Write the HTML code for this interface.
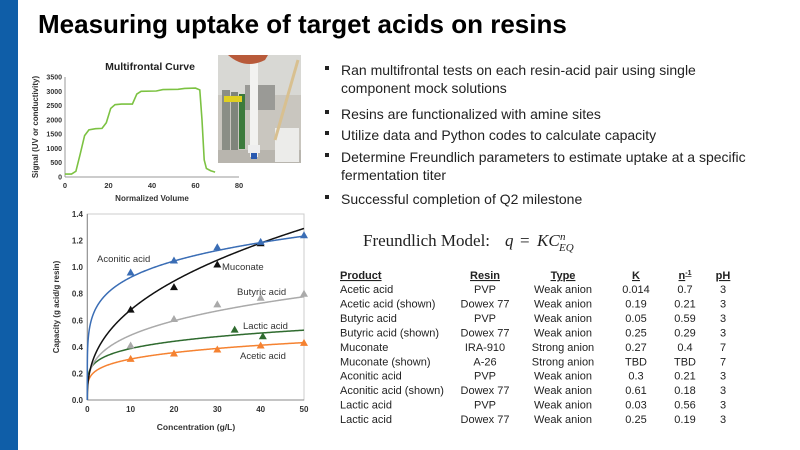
<!DOCTYPE html>
<html><head><meta charset="utf-8"><style>
body{margin:0;width:800px;height:450px;overflow:hidden;background:#fff;font-family:"Liberation Sans",Arial,sans-serif;position:relative}
.t{position:absolute;white-space:nowrap}
</style></head><body>
<div style="position:absolute;left:0;top:0;width:18px;height:450px;background:#0f5ea8"></div>
<div class="t" style="left:38px;top:9px;font-size:26px;font-weight:bold;color:#000">Measuring uptake of target acids on resins</div>

<svg width="800" height="450" style="position:absolute;left:0;top:0" font-family="Liberation Sans, Arial, sans-serif">
<!-- top chart -->
<text x="150" y="70" font-size="10.5" font-weight="bold" text-anchor="middle" fill="#222">Multifrontal Curve</text>
<line x1="65" y1="77" x2="65" y2="177" stroke="#999"/>
<line x1="65" y1="177" x2="239" y2="177" stroke="#999"/>
<g font-size="7" font-weight="bold" fill="#333" text-anchor="end" id="ty"></g>
<g font-size="7.5" font-weight="bold" fill="#333" text-anchor="middle" id="tx"></g>
<text x="152" y="201" font-size="8" font-weight="bold" text-anchor="middle" fill="#333">Normalized Volume</text>
<text transform="translate(38,127) rotate(-90)" font-size="8" font-weight="bold" text-anchor="middle" fill="#333">Signal (UV or conductivity)</text>
<path id="mf" fill="none" stroke="#7cc242" stroke-width="1.6"/>
<!-- photo -->
<rect x="218" y="55" width="83" height="108" fill="#c9c6bf"/>
<rect x="218" y="55" width="83" height="40" fill="#d8d8d4"/>
<rect x="222" y="90" width="8" height="60" fill="#8a8e86"/>
<rect x="231" y="92" width="7" height="58" fill="#7f857b"/>
<rect x="239" y="94" width="6" height="55" fill="#3c7a3c"/>
<rect x="224" y="96" width="18" height="6" fill="#e0d020"/>
<rect x="245" y="85" width="30" height="25" fill="#9a9a96"/>
<rect x="218" y="150" width="83" height="13" fill="#b8b5ae"/>
<rect x="250" y="57" width="8" height="100" fill="#f2f2f0"/>
<rect x="248" y="145" width="12" height="8" fill="#eee"/>
<rect x="251" y="153" width="6" height="6" fill="#2a5ab0"/>
<path d="M228 55 Q245 70 265 60 L268 55Z" fill="#b85a3a"/>
<rect x="275" y="128" width="24" height="34" fill="#ececea"/>
<line x1="298" y1="60" x2="275" y2="140" stroke="#d8c090" stroke-width="3"/>
<!-- bottom chart -->
<rect x="87.3" y="214" width="216.7" height="186" fill="none" stroke="#ccc"/>
<line x1="87.3" y1="214" x2="87.3" y2="400" stroke="#888"/>
<line x1="87.3" y1="400" x2="304" y2="400" stroke="#888"/>
<g font-size="8" font-weight="bold" fill="#333" text-anchor="end" id="by"></g>
<g font-size="8" font-weight="bold" fill="#333" text-anchor="middle" id="bx"></g>
<text x="196" y="430" font-size="8.5" font-weight="bold" text-anchor="middle" fill="#333">Concentration (g/L)</text>
<text transform="translate(59,307) rotate(-90)" font-size="8" font-weight="bold" text-anchor="middle" fill="#333">Capacity (g acid/g resin)</text>
<g id="curves"></g>
<g font-size="9.5" fill="#333">
<text x="97" y="262">Aconitic acid</text>
<text x="222" y="270">Muconate</text>
<text x="237" y="295">Butyric acid</text>
<text x="243" y="329">Lactic acid</text>
<text x="240" y="359">Acetic acid</text>
</g>
<g font-family="Liberation Serif, serif" fill="#222">
<text x="363" y="246" font-size="17">Freundlich Model:</text>
<text x="505" y="246" font-size="17" font-style="italic">q</text>
<text x="520" y="246" font-size="17">=</text>
<text x="537" y="246" font-size="17" font-style="italic">KC</text>
<text x="560" y="240" font-size="11" font-style="italic">n</text>
<text x="559" y="251" font-size="11" font-style="italic">EQ</text>
</g>
<g id="tbl" font-size="11" fill="#222"></g>
<!-- bullets -->
<g font-size="14" fill="#222">
<rect x="325" y="66" width="4" height="4"/><text x="341" y="75">Ran multifrontal tests on each resin-acid pair using single</text>
<text x="341" y="93">component mock solutions</text>
<rect x="325" y="110" width="4" height="4"/><text x="341" y="119">Resins are functionalized with amine sites</text>
<rect x="325" y="131" width="4" height="4"/><text x="341" y="140">Utilize data and Python codes to calculate capacity</text>
<rect x="325" y="153" width="4" height="4"/><text x="341" y="162">Determine Freundlich parameters to estimate uptake at a specific</text>
<text x="341" y="180">fermentation titer</text>
<rect x="325" y="195" width="4" height="4"/><text x="341" y="204">Successful completion of Q2 milestone</text>
</g>
</svg>
<script>
var NS="http://www.w3.org/2000/svg";
function el(p,t,a,txt){var e=document.createElementNS(NS,t);for(var k in a)e.setAttribute(k,a[k]);if(txt!=null)e.textContent=txt;p.appendChild(e);return e;}
var tx=function(v){return 65+v*174/80},ty=function(v){return 177-v*100/3500};
var ty_g=document.getElementById('ty'),tx_g=document.getElementById('tx');
for(var v=0;v<=3500;v+=500)el(ty_g,'text',{x:62,y:ty(v)+2.5},v);
for(var v=0;v<=80;v+=20)el(tx_g,'text',{x:tx(v),y:188},v);
var mp=[[0,100],[3,100],[5,200],[7,800],[9,1450],[11,1650],[14,1690],[17,1700],[19,1900],[21,2400],[23,2530],[26,2550],[31,2550],[33,2900],[35,3000],[42,3010],[45,3060],[52,3070],[55,3100],[60,3110],[62,3050],[63,2000],[64,600],[65,300],[67,220],[69,170]];
document.getElementById('mf').setAttribute('d','M'+mp.map(function(p){return tx(p[0]).toFixed(1)+' '+ty(p[1]).toFixed(1)}).join(' L'));
var bx=function(v){return 87.3+v*216.7/50},by=function(v){return 400-v*186/1.4};
var byg=document.getElementById('by'),bxg=document.getElementById('bx');
for(var i=0;i<=7;i++){var v=i*0.2;el(byg,'text',{x:83,y:by(v)+3},v.toFixed(1));}
for(var v=0;v<=50;v+=10)el(bxg,'text',{x:bx(v),y:412},v);
var S=[
 {c:'#f58231',K:0.19,n:0.21,p:[[10,0.31],[20,0.35],[30,0.38],[40,0.41],[50,0.43]]},
 {c:'#2f6b2f',K:0.25,n:0.19,p:[[34,0.53],[40.5,0.48]]},
 {c:'#aaaaaa',K:0.25,n:0.29,p:[[10,0.41],[20,0.61],[30,0.72],[40,0.77],[50,0.8]]},
 {c:'#111111',K:0.27,n:0.4,p:[[10,0.68],[20,0.85],[30,1.02],[40,1.18]]},
 {c:'#3a6db5',K:0.61,n:0.18,p:[[10,0.96],[20,1.05],[30,1.15],[40,1.19],[50,1.24]]}];
var cg=document.getElementById('curves');
S.forEach(function(s){
 var d='M'+bx(0)+' '+by(0);
 for(var i=1;i<=400;i++){var x=Math.pow(i/400,2.5)*50;var y=s.K*Math.pow(x,s.n);d+=' L'+bx(x).toFixed(2)+' '+by(y).toFixed(2);}
 el(cg,'path',{d:d,fill:'none',stroke:s.c,'stroke-width':1.5});
 s.p.forEach(function(p){var X=bx(p[0]),Y=by(p[1]);el(cg,'path',{d:'M'+X+' '+(Y-4)+' L'+(X+4)+' '+(Y+3)+' L'+(X-4)+' '+(Y+3)+'Z',fill:s.c});});
});
var tb=document.getElementById('tbl');
var rows=[["Acetic acid","PVP","Weak anion","0.014","0.7","3"],["Acetic acid (shown)","Dowex 77","Weak anion","0.19","0.21","3"],["Butyric acid","PVP","Weak anion","0.05","0.59","3"],["Butyric acid (shown)","Dowex 77","Weak anion","0.25","0.29","3"],["Muconate","IRA-910","Strong anion","0.27","0.4","7"],["Muconate (shown)","A-26","Strong anion","TBD","TBD","7"],["Aconitic acid","PVP","Weak anion","0.3","0.21","3"],["Aconitic acid (shown)","Dowex 77","Weak anion","0.61","0.18","3"],["Lactic acid","PVP","Weak anion","0.03","0.56","3"],["Lactic acid","Dowex 77","Weak anion","0.25","0.19","3"]];
var cx=[340,485,563,636,685,723];
var hd=["Product","Resin","Type","K","n-1","pH"];
hd.forEach(function(h,j){var a={x:cx[j],y:279,'font-weight':'bold','text-decoration':'underline','text-anchor':j?'middle':'start'};
 if(j==4){var t=el(tb,'text',a);el(t,'tspan',{},'n');el(t,'tspan',{'font-size':7,dy:-4},'-1');}else el(tb,'text',a,h);});
rows.forEach(function(r,i){r.forEach(function(c,j){el(tb,'text',{x:cx[j],y:293+i*14.45,'text-anchor':j?'middle':'start'},c);});});
</script>
</body></html>
